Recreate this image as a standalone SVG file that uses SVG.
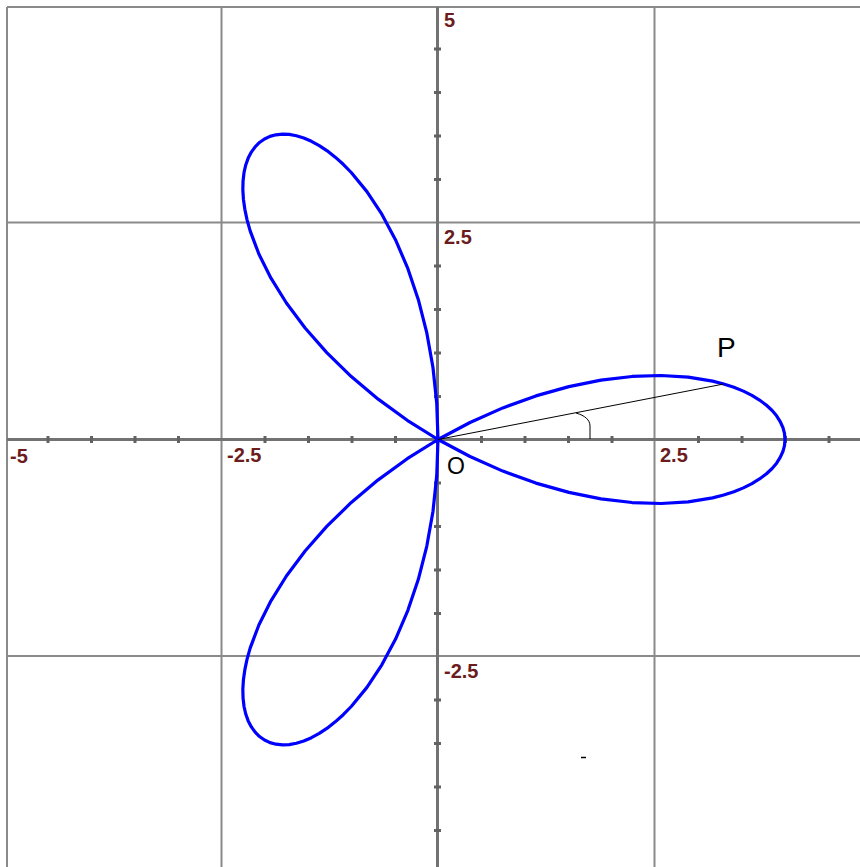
<svg xmlns="http://www.w3.org/2000/svg" xmlns:xlink="http://www.w3.org/1999/xlink" width="860" height="867" viewBox="0 0 860 867">
<style>
.grid{stroke:#8a8a8a;stroke-width:2;fill:none}
.axis{stroke:#727272;stroke-width:3;fill:none}
.tick{fill:#626262}
.num{font-family:"Liberation Sans",Arial,sans-serif;font-size:20px;font-weight:bold;fill:#6b1c1c}
.lbl{font-family:"Liberation Sans",Arial,sans-serif;fill:#000}
.rose{stroke:#0000ff;stroke-width:3.2;fill:none;stroke-linejoin:round}
.thin{stroke:#000;stroke-width:1;fill:none}
</style>
<defs>
<path id="petal" d="M0,0 L32.03,-17.03 L64.84,-31.62 L97.9,-43.61 L130.9,-52.87 L163.0,-59.34 L194.0,-63.03 L223.2,-64.0 L250.2,-62.38 L274.6,-58.37 L285.7,-55.53 L295.9,-52.18 L305.4,-48.37 L313.9,-44.12 L321.5,-39.48 L328.2,-34.49 L333.9,-29.21 L338.6,-23.68 L342.2,-17.94 L344.9,-12.04 L346.5,-6.05 L347,0 L346.5,6.05 L344.9,12.04 L342.2,17.94 L338.6,23.68 L333.9,29.21 L328.2,34.49 L321.5,39.48 L313.9,44.12 L305.4,48.37 L295.9,52.18 L285.7,55.53 L274.6,58.37 L250.2,62.38 L223.2,64.0 L194.0,63.03 L163.0,59.34 L130.9,52.87 L97.9,43.61 L64.84,31.62 L32.03,17.03 Z"/>
</defs>
<rect width="860" height="867" fill="#fff"/>
<g id="grid">
<line class="grid" x1="7" y1="7" x2="860" y2="7"/>
<line class="grid" x1="7" y1="7" x2="7" y2="867"/>
<line class="grid" x1="221.5" y1="7" x2="221.5" y2="867"/>
<line class="grid" x1="654.5" y1="7" x2="654.5" y2="867"/>
<line class="grid" x1="7" y1="222.5" x2="860" y2="222.5"/>
<line class="grid" x1="7" y1="656" x2="860" y2="656"/>
</g>
<g id="axes">
<line class="axis" x1="7" y1="439.5" x2="860" y2="439.5"/>
<line class="axis" x1="437.5" y1="7" x2="437.5" y2="867"/>
</g>
<g id="ticks" class="tick">
<rect x="46.5" y="436" width="3" height="7"/>
<rect x="90" y="436" width="3" height="7"/>
<rect x="133.5" y="436" width="3" height="7"/>
<rect x="177" y="436" width="3" height="7"/>
<rect x="263.5" y="436" width="3" height="7"/>
<rect x="307" y="436" width="3" height="7"/>
<rect x="350.5" y="436" width="3" height="7"/>
<rect x="394" y="436" width="3" height="7"/>
<rect x="480" y="436" width="3" height="7"/>
<rect x="523.5" y="436" width="3" height="7"/>
<rect x="567" y="436" width="3" height="7"/>
<rect x="610.5" y="436" width="3" height="7"/>
<rect x="697" y="436" width="3" height="7"/>
<rect x="740.5" y="436" width="3" height="7"/>
<rect x="784" y="436" width="3" height="7"/>
<rect x="827.5" y="436" width="3" height="7"/>
<rect x="434" y="47.5" width="7" height="3"/>
<rect x="434" y="91" width="7" height="3"/>
<rect x="434" y="134.5" width="7" height="3"/>
<rect x="434" y="178" width="7" height="3"/>
<rect x="434" y="264.5" width="7" height="3"/>
<rect x="434" y="308" width="7" height="3"/>
<rect x="434" y="351.5" width="7" height="3"/>
<rect x="434" y="395" width="7" height="3"/>
<rect x="434" y="481.5" width="7" height="3"/>
<rect x="434" y="525" width="7" height="3"/>
<rect x="434" y="568.5" width="7" height="3"/>
<rect x="434" y="612" width="7" height="3"/>
<rect x="434" y="698.5" width="7" height="3"/>
<rect x="434" y="742" width="7" height="3"/>
<rect x="434" y="785.5" width="7" height="3"/>
<rect x="434" y="829" width="7" height="3"/>
</g>
<g id="axis-labels" class="num">
<text x="444" y="27">5</text>
<text x="444" y="244">2.5</text>
<text x="444" y="678">-2.5</text>
<text x="10" y="462.5">-5</text>
<text x="227" y="462">-2.5</text>
<text x="660" y="462">2.5</text>
</g>
<g id="rose" class="rose" transform="translate(438,439.5)">
<use xlink:href="#petal"/>
<use xlink:href="#petal" transform="rotate(-120)"/>
<use xlink:href="#petal" transform="rotate(120)"/>
</g>
<g id="segment-OP">
<line class="thin" x1="438" y1="439.5" x2="723.7" y2="384"/>
<path class="thin" d="M576,413 C585,415.5 590,420 590,426 L590,439"/>
</g>
<g id="point-labels" class="lbl">
<text x="447" y="474" font-size="23">O</text>
<text x="717" y="357" font-size="28">P</text>
</g>
<line id="dash" x1="581" y1="757.5" x2="586" y2="757.5" stroke="#000" stroke-width="1.5"/>
</svg>
